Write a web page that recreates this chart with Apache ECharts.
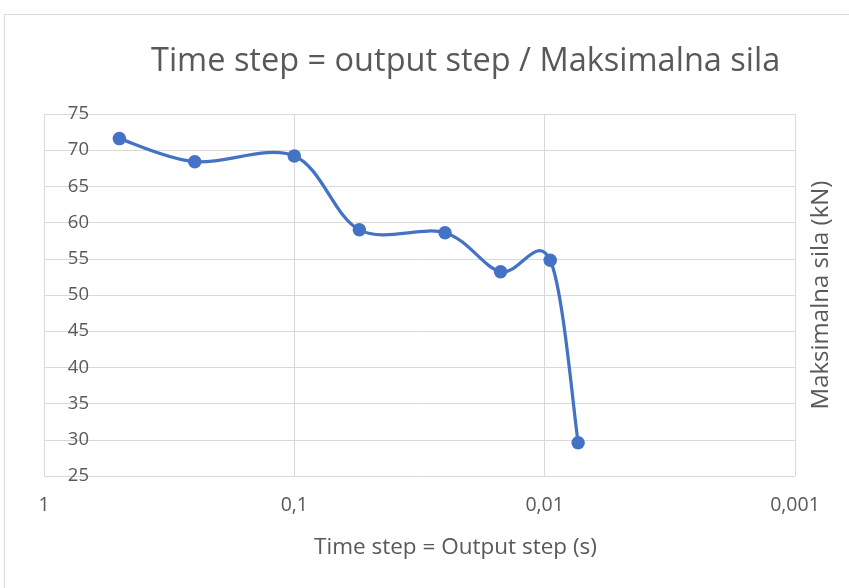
<!DOCTYPE html>
<html>
<head>
<meta charset="utf-8">
<script src="https://cdn.jsdelivr.net/npm/echarts@6/dist/echarts.min.js"></script>
<style>
  html, body { margin: 0; padding: 0; background: #ffffff; }
  #chart { width: 849px; height: 588px; }
</style>
</head>
<body>
<div id="chart"></div>
<script>
// Time step (s) and the corresponding maximum force (kN)
const timeSteps = [0.5, 0.25, 0.1, 0.055, 0.025, 0.015, 0.0095, 0.00735];
const maxForce = [71.6, 68.4, 69.2, 59.0, 58.6, 53.2, 54.8, 29.6];

const chartTitle = 'Time step = output step / Maksimalna sila';
const xName = 'Time step = Output step (s)';
const yName = 'Maksimalna sila (kN)';

const textColor = '#595959';
const gridColor = '#d9d9d9';
const lineColor = '#4472C4';
const fontFamily = 'Open Sans';

const points = timeSteps.map((t, i) => [t, maxForce[i]]);

// Smooth curve: one cubic Bezier per segment, control points taken from
// the neighbouring points (Catmull-Rom style, tension 1/6), in pixel space.
function renderSegment(params, api) {
  const i = params.dataIndex;
  const n = points.length;
  if (i >= n - 1) return null;
  const px = k => api.coord(points[Math.max(0, Math.min(n - 1, k))]);
  const p0 = px(i - 1), p1 = px(i), p2 = px(i + 1), p3 = px(i + 2);
  const t = 1 / 6;
  return {
    type: 'bezierCurve',
    shape: {
      x1: p1[0], y1: p1[1],
      cpx1: p1[0] + (p2[0] - p0[0]) * t,
      cpy1: p1[1] + (p2[1] - p0[1]) * t,
      cpx2: p2[0] - (p3[0] - p1[0]) * t,
      cpy2: p2[1] - (p3[1] - p1[1]) * t,
      x2: p2[0], y2: p2[1]
    },
    style: { stroke: lineColor, lineWidth: 3.25, fill: null, lineCap: 'round' },
    silent: true
  };
}

const chart = echarts.init(document.getElementById('chart'));

chart.setOption({
  animation: false,
  backgroundColor: '#ffffff',
  textStyle: { fontFamily: fontFamily },
  graphic: [{
    type: 'rect',
    shape: { x: 4.5, y: 14.5, width: 900, height: 600 },
    style: { fill: 'none', stroke: gridColor, lineWidth: 1 },
    silent: true,
    z: -10
  }],
  title: {
    text: chartTitle,
    left: 146,
    top: 40,
    textStyle: { fontFamily: fontFamily, fontSize: 32.5, fontWeight: 'normal', color: textColor }
  },
  grid: { left: 44, top: 114, right: 54, bottom: 112, containLabel: false },
  xAxis: {
    type: 'log',
    logBase: 10,
    min: 0.001,
    max: 1,
    inverse: true,
    name: xName,
    nameLocation: 'middle',
    nameGap: 60,
    nameTextStyle: { fontSize: 22.5, color: textColor, fontFamily: fontFamily, padding: [0, 0, 0, 72] },
    axisLine: { show: false },
    axisTick: { show: false },
    axisLabel: {
      color: textColor,
      fontSize: 19.5,
      margin: 19,
      formatter: v => String(v).replace('.', ',')
    },
    splitLine: { show: true, lineStyle: { color: gridColor, width: 1 } }
  },
  yAxis: [{
    type: 'value',
    min: 25,
    max: 75,
    interval: 5,
    axisLine: { show: false },
    axisTick: { show: false },
    axisLabel: { color: textColor, fontSize: 18.5, margin: -45, align: 'right' },
    splitLine: { show: true, lineStyle: { color: gridColor, width: 1 } }
  }, {
    type: 'value',
    position: 'right',
    min: 25,
    max: 75,
    interval: 5,
    name: yName,
    nameLocation: 'middle',
    nameRotate: 90,
    nameGap: 14,
    nameTextStyle: { fontSize: 24, color: textColor, fontFamily: fontFamily },
    axisLine: { show: false },
    axisTick: { show: false },
    axisLabel: { show: false },
    splitLine: { show: false }
  }],
  series: [{
    type: 'custom',
    renderItem: renderSegment,
    data: points,
    encode: { x: 0, y: 1 },
    z: 2
  }, {
    type: 'scatter',
    data: points,
    symbol: 'circle',
    symbolSize: 13.5,
    itemStyle: { color: lineColor, opacity: 1 },
    z: 3
  }]
});
</script>
</body>
</html>
